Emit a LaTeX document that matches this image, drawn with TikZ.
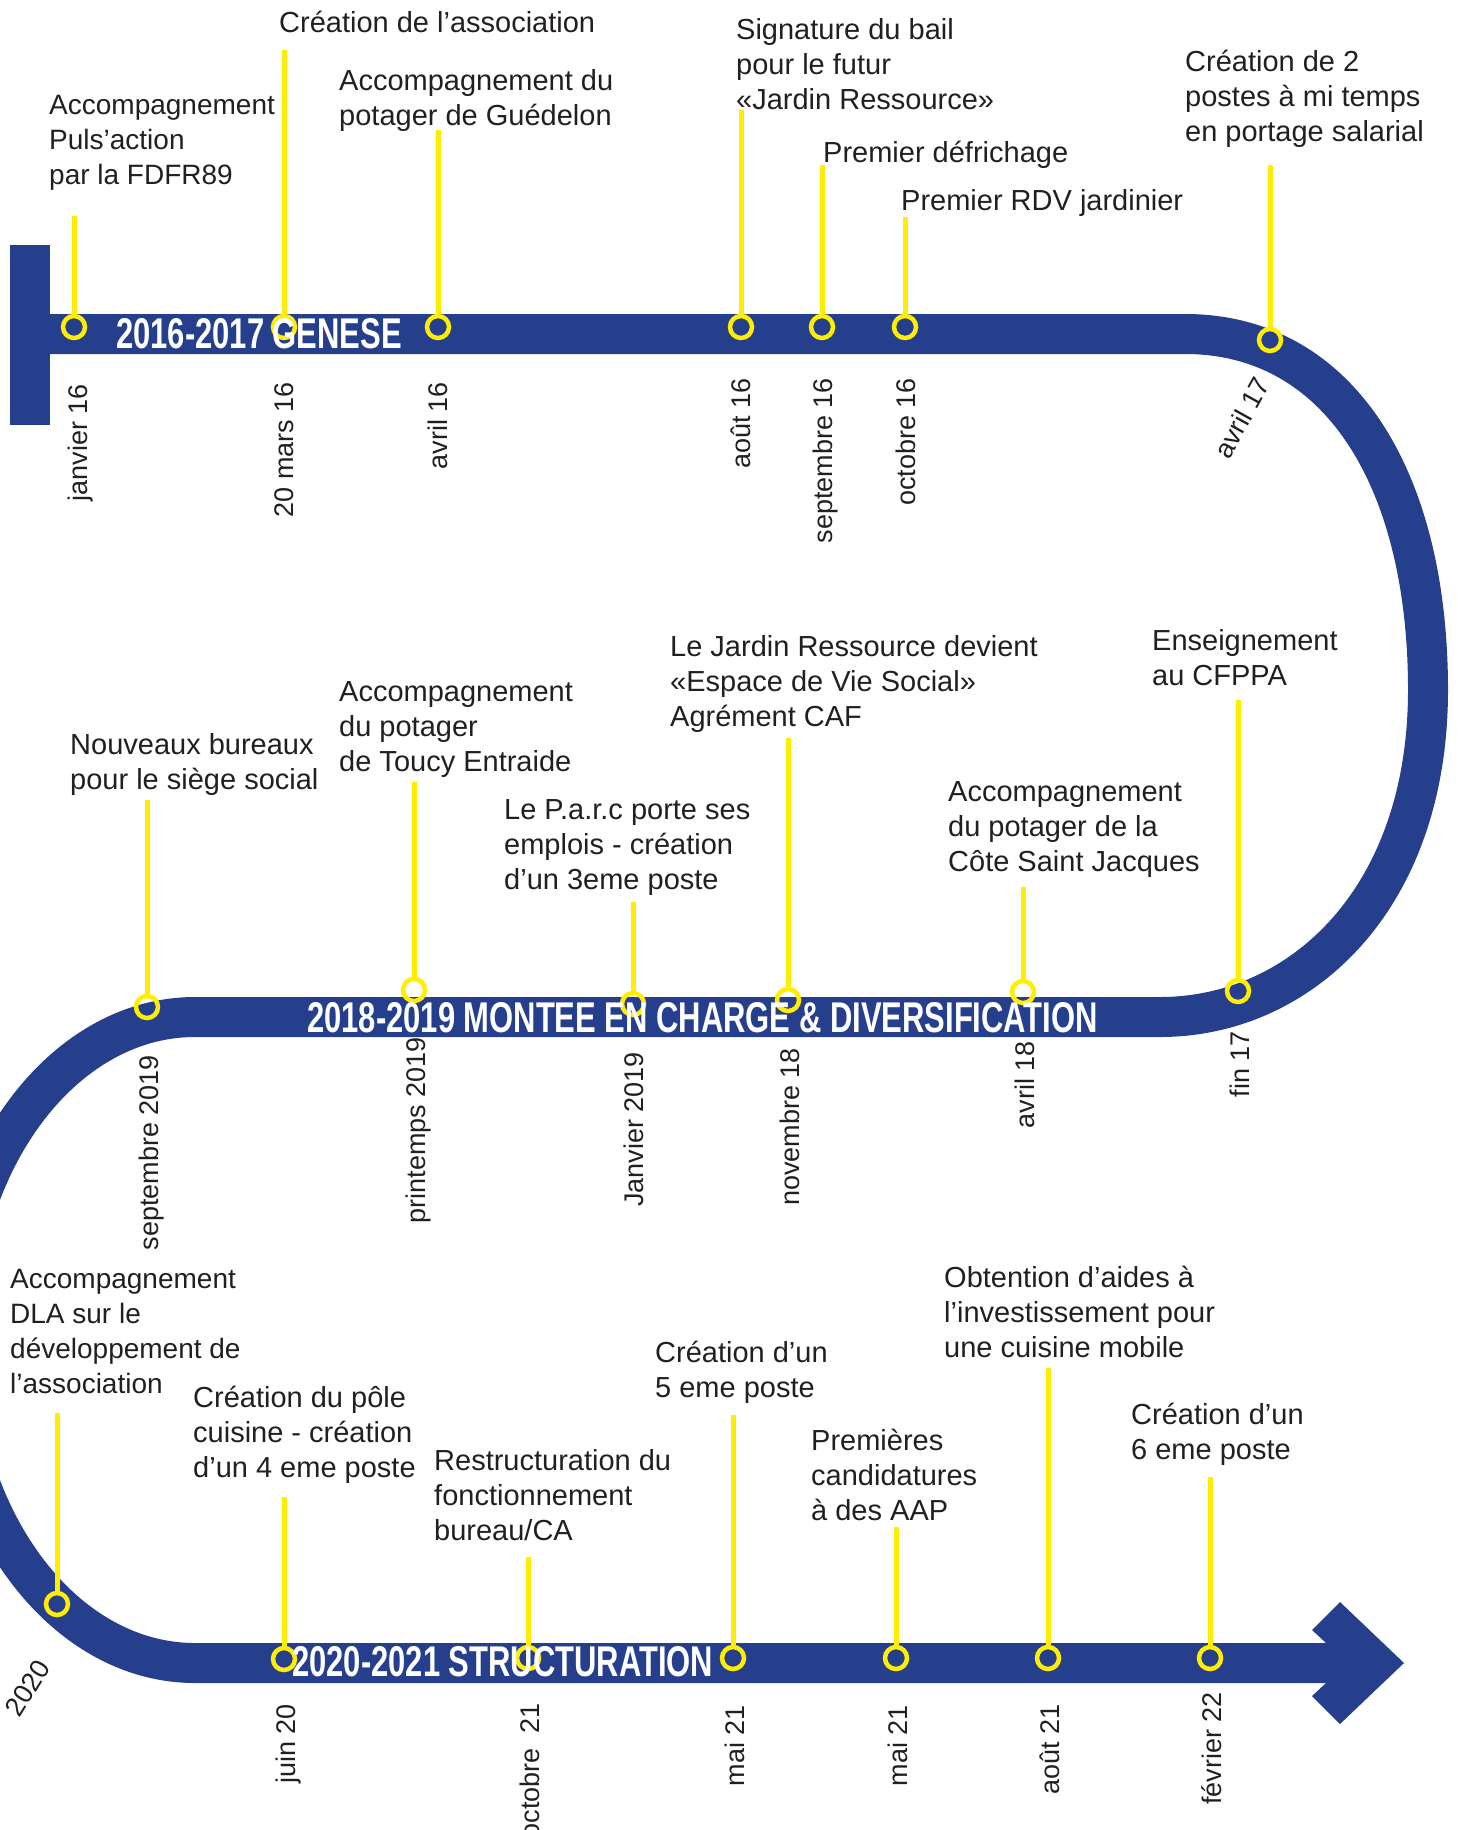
\documentclass[tikz,border=0pt]{standalone}
\usepackage{fontspec}
\setmainfont{Liberation Sans}
\newfontfamily\titlefont[FakeStretch=0.72]{Liberation Sans}
\definecolor{bandblue}{RGB}{38,63,141}
\definecolor{dotyellow}{RGB}{255,238,0}
\definecolor{inktext}{RGB}{35,31,32}
\newcommand\evlines[1]{\begin{tabular}[t]{@{}l@{}}#1\end{tabular}}
\tikzset{
  band/.style={draw=bandblue, line width=40pt},
  stem/.style={draw=dotyellow, line width=5pt},
  evdot/.style={circle, draw=dotyellow, line width=4.5pt, minimum size=22pt, inner sep=0pt},
  evtext/.style={anchor=base west, inner sep=0pt, text=inktext, font=\fontsize{29}{35}\selectfont},
  evtextsm/.style={evtext, font=\fontsize{28}{35}\selectfont},
  datelbl/.style={anchor=mid east, inner sep=0pt, text=inktext, font=\fontsize{27}{32}\selectfont},
  vdate/.style={datelbl, rotate=90},
  titletext/.style={anchor=base west, inner sep=0pt, text=white, font=\titlefont\bfseries\fontsize{43}{43}\selectfont},
}
\begin{document}
\begin{tikzpicture}[x=1pt, y=-1pt]
\useasboundingbox (0,0) rectangle (1458,1830);

% ---- timeline band ----
\draw[band] (50,334) -- (1185,334)
  .. controls (1340,334) and (1428,480) .. (1428,690)
  .. controls (1428,900) and (1300,1017) .. (1160,1017)
  -- (195,1017) arc[start angle=270, end angle=90, x radius=240, y radius=323]
  -- (1330,1663);
\fill[bandblue] (10,245) rectangle (50,425);
\fill[bandblue] (1326,1643) -- (1312,1630) -- (1340,1602) -- (1404,1663)
  -- (1340,1724) -- (1312,1696) -- (1326,1683) -- cycle;

% ---- circles ----
\node[evdot] (c1) at (74,327) {};
\node[evdot] (c2) at (284,327) {};
\node[evdot] (c3) at (438,327) {};
\node[evdot] (c4) at (741,327) {};
\node[evdot] (c5) at (822,327) {};
\node[evdot] (c6) at (905,327) {};
\node[evdot] (c7) at (1270,340) {};
\node[evdot] (c8) at (147,1007) {};
\node[evdot] (c9) at (414,990) {};
\node[evdot] (c10) at (633,1004) {};
\node[evdot] (c11) at (788,1000) {};
\node[evdot] (c12) at (1023,992) {};
\node[evdot] (c13) at (1238,991) {};
\node[evdot] (c14) at (57,1604) {};
\node[evdot] (c15) at (284,1659) {};
\node[evdot] (c16) at (528,1658) {};
\node[evdot] (c17) at (733,1658) {};
\node[evdot] (c18) at (896,1658) {};
\node[evdot] (c19) at (1048,1658) {};
\node[evdot] (c20) at (1210,1658) {};

% ---- stem tops ----
\coordinate (s1) at (74,216);
\coordinate (s2) at (284,50);
\coordinate (s3) at (438,130);
\coordinate (s4) at (741,110);
\coordinate (s5) at (822,165);
\coordinate (s6) at (905,217);
\coordinate (s7) at (1270,165);
\coordinate (s8) at (147,800);
\coordinate (s9) at (414,782);
\coordinate (s10) at (633,902);
\coordinate (s11) at (788,738);
\coordinate (s12) at (1023,887);
\coordinate (s13) at (1238,700);
\coordinate (s14) at (57,1413);
\coordinate (s15) at (284,1497);
\coordinate (s16) at (528,1557);
\coordinate (s17) at (733,1415);
\coordinate (s18) at (896,1527);
\coordinate (s19) at (1048,1368);
\coordinate (s20) at (1210,1477);

\foreach \i in {1,...,20} { \draw[stem] (s\i) -- (c\i.north); }

% ---- band titles ----
\node[titletext] (g1) at (116,348) {2016-2017 GENESE};
\node[titletext] (g2) at (307,1032) {2018-2019 MONTEE EN CHARGE \& DIVERSIFICATION};
\node[titletext] (g3) at (292,1676) {2020-2021 STRUCTURATION};

% ---- event texts ----
\node[evtextsm] (t1) at (49,115) {\evlines{Accompagnement\\Puls’action\\par la FDFR89}};
\node[evtext] (t2) at (279,33) {\evlines{Création de l’association}};
\node[evtext] (t3) at (339,91) {\evlines{Accompagnement du\\potager de Guédelon}};
\node[evtext] (t4) at (736,40) {\evlines{Signature du bail\\pour le futur\\«Jardin Ressource»}};
\node[evtext] (t5) at (823,163) {\evlines{Premier défrichage}};
\node[evtext] (t6) at (901,211) {\evlines{Premier RDV jardinier}};
\node[evtext] (t7) at (1185,72) {\evlines{Création de 2\\postes à mi temps\\en portage salarial}};
\node[evtext] (t8) at (70,754) {\evlines{Nouveaux bureaux\\pour le siège social}};
\node[evtext] (t9) at (339,701) {\evlines{Accompagnement\\du potager\\de Toucy Entraide}};
\node[evtext] (t10) at (504,819) {\evlines{Le P.a.r.c porte ses\\emplois - création\\d’un 3eme poste}};
\node[evtext] (t11) at (670,656) {\evlines{Le Jardin Ressource devient\\«Espace de Vie Social»\\Agrément CAF}};
\node[evtext] (t12) at (948,801) {\evlines{Accompagnement\\du potager de la\\Côte Saint Jacques}};
\node[evtext] (t13) at (1152,650) {\evlines{Enseignement\\au CFPPA}};
\node[evtextsm] (t14) at (10,1288) {\evlines{Accompagnement\\DLA sur le\\développement de\\l’association}};
\node[evtext] (t15) at (193,1407) {\evlines{Création du pôle\\cuisine - création\\d’un 4 eme poste}};
\node[evtext] (t16) at (434,1470) {\evlines{Restructuration du\\fonctionnement\\bureau/CA}};
\node[evtext] (t17) at (655,1362) {\evlines{Création d’un\\5 eme poste}};
\node[evtext] (t18) at (811,1450) {\evlines{Premières\\candidatures\\à des AAP}};
\node[evtext] (t19) at (944,1287) {\evlines{Obtention d’aides à\\l’investissement pour\\une cuisine mobile}};
\node[evtext] (t20) at (1131,1424) {\evlines{Création d’un\\6 eme poste}};

% ---- date labels ----
\node[vdate] (d1) at (85,384) {janvier 16};
\node[vdate] (d2) at (291,382) {20 mars 16};
\node[vdate] (d3) at (445,382) {avril 16};
\node[vdate] (d4) at (748,378) {août 16};
\node[vdate] (d5) at (830,378) {septembre 16};
\node[vdate] (d6) at (913,378) {octobre 16};
\node[datelbl, rotate=61] (d7) at (1269,383) {avril 17};
\node[vdate] (d8) at (156,1055) {septembre 2019};
\node[vdate] (d9) at (423,1037) {printemps 2019};
\node[vdate] (d10) at (641,1052) {Janvier 2019};
\node[vdate] (d11) at (797,1048) {novembre 18};
\node[vdate] (d12) at (1032,1041) {avril 18};
\node[vdate] (d13) at (1247,1031) {fin 17};
\node[datelbl, rotate=58] (d14) at (49,1666) {2020};
\node[vdate] (d15) at (293,1704) {juin 20};
\node[vdate] (d16) at (537,1703) {octobre\ \ 21};
\node[vdate] (d17) at (742,1705) {mai 21};
\node[vdate] (d18) at (905,1705) {mai 21};
\node[vdate] (d19) at (1057,1704) {août 21};
\node[vdate] (d20) at (1219,1692) {février 22};
\end{tikzpicture}
\end{document}
